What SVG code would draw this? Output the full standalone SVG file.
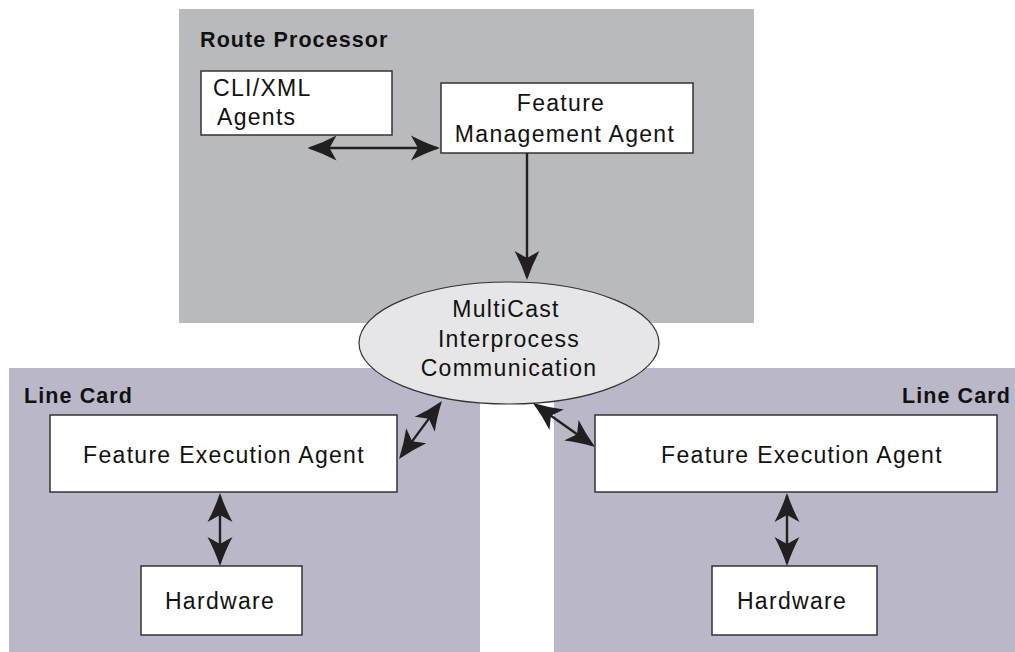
<svg xmlns="http://www.w3.org/2000/svg" width="1015" height="652" viewBox="0 0 1015 652">
  <style>
    .rp { fill: #b9babd; }
    .lc { fill: #bab7c9; }
    .box { fill: #ffffff; stroke: #333333; stroke-width: 1.5; }
    .bus { fill: #e6e6e8; stroke: #333333; stroke-width: 1.2; }
    .title { font-family: "Liberation Sans", Arial, sans-serif; font-weight: bold; font-size: 21.5px; letter-spacing: 1.1px; fill: #111111; }
    .lbl { font-family: "Liberation Sans", Arial, sans-serif; font-size: 23px; letter-spacing: 1.3px; fill: #111111; }
    .mid { text-anchor: middle; }
    .link { fill: none; stroke: #231f20; stroke-width: 2.4; }
  </style>
  <defs>
    <!-- filled arrowhead with swept-back barbs, shared by every connector end -->
    <marker id="head" viewBox="0 0 29 26" refX="26" refY="13" markerWidth="29" markerHeight="26" markerUnits="userSpaceOnUse" orient="auto-start-reverse">
      <path d="M0,0.5 Q13,7.5 29,13 Q13,18.5 0,25.5 L7,13 Z" fill="#231f20"/>
    </marker>
  </defs>

  <!-- background panels -->
  <g id="route-processor">
    <rect class="rp" x="179" y="9" width="575" height="314"/>
    <text class="title" x="200" y="47">Route Processor</text>
  </g>
  <g id="line-card-left">
    <rect class="lc" x="9" y="368" width="471" height="284"/>
    <text class="title" x="24" y="403">Line Card</text>
  </g>
  <g id="line-card-right">
    <rect class="lc" x="554" y="368" width="461" height="284"/>
    <text class="title" x="1011" y="403" text-anchor="end">Line Card</text>
  </g>

  <!-- nodes -->
  <g id="cli-xml-agents">
    <rect class="box" x="201" y="71" width="191" height="64"/>
    <text class="lbl" x="213" y="96">CLI/XML</text>
    <text class="lbl" x="217" y="125">Agents</text>
  </g>
  <g id="feature-management-agent">
    <rect class="box" x="441" y="83" width="252" height="70"/>
    <text class="lbl mid" x="561" y="111">Feature</text>
    <text class="lbl mid" x="565" y="142">Management Agent</text>
  </g>
  <g id="multicast-ipc">
    <ellipse class="bus" cx="509" cy="343" rx="150" ry="61"/>
    <text class="lbl mid" x="506" y="317">MultiCast</text>
    <text class="lbl mid" x="509" y="347">Interprocess</text>
    <text class="lbl mid" x="509" y="376">Communication</text>
  </g>
  <g id="fea-left">
    <rect class="box" x="50" y="415" width="347" height="77"/>
    <text class="lbl mid" x="224" y="463">Feature Execution Agent</text>
  </g>
  <g id="hardware-left">
    <rect class="box" x="141" y="566" width="161" height="69"/>
    <text class="lbl mid" x="220" y="609">Hardware</text>
  </g>
  <g id="fea-right">
    <rect class="box" x="595" y="415" width="402" height="77"/>
    <text class="lbl mid" x="802" y="463">Feature Execution Agent</text>
  </g>
  <g id="hardware-right">
    <rect class="box" x="712" y="566" width="165" height="69"/>
    <text class="lbl mid" x="792" y="609">Hardware</text>
  </g>

  <!-- connectors -->
  <g id="connectors">
    <line class="link" x1="310.5" y1="148" x2="437" y2="148" marker-start="url(#head)" marker-end="url(#head)"/>
    <line class="link" x1="527" y1="153" x2="527" y2="277" marker-end="url(#head)"/>
    <line class="link" x1="400.8" y1="456.6" x2="440.2" y2="403.4" marker-start="url(#head)" marker-end="url(#head)"/>
    <line class="link" x1="535.4" y1="404.8" x2="592.6" y2="445.2" marker-start="url(#head)" marker-end="url(#head)"/>
    <line class="link" x1="220" y1="496" x2="220" y2="563" marker-start="url(#head)" marker-end="url(#head)"/>
    <line class="link" x1="787" y1="496" x2="787" y2="563" marker-start="url(#head)" marker-end="url(#head)"/>
  </g>
</svg>
